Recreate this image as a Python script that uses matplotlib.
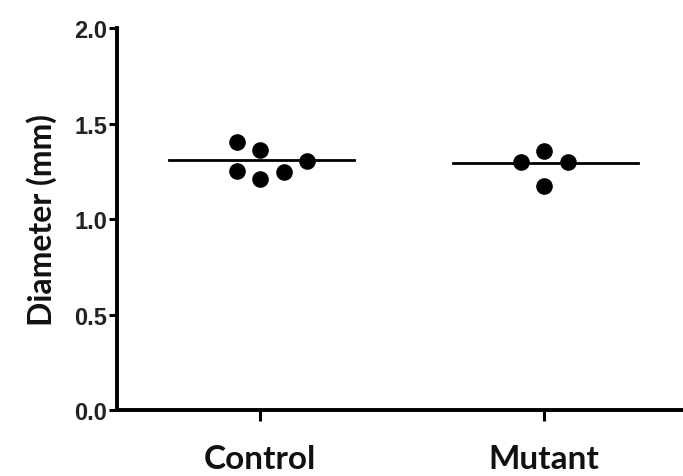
import matplotlib
matplotlib.use('Agg')
import matplotlib.pyplot as plt

# values
groups = ['Control', 'Mutant']
control = [1.403, 1.361, 1.251, 1.209, 1.246, 1.304]
mutant = [1.298, 1.356, 1.298, 1.173]
control_dx = [-0.08, 0.0, -0.08, 0.0, 0.085, 0.165]
mutant_dx = [-0.08, 0.0, 0.085, 0.0]
means = [1.309, 1.293]

fig = plt.figure(figsize=(6.83, 4.77), dpi=100)
ax = fig.add_axes([0.171, 0.138, 0.829, 0.801])

for i, (vals, dx) in enumerate([(control, control_dx), (mutant, mutant_dx)]):
    ax.scatter([i + d for d in dx], vals, s=120, color='black', zorder=3)
    ax.plot([i - 0.32, i + 0.33], [means[i], means[i]], color='black', lw=2, zorder=2)

ax.set_xlim(-0.504, 1.49)
ax.set_ylim(0, 2.0)
ax.set_yticks([0, 0.5, 1.0, 1.5, 2.0])
ax.set_yticklabels(['0.0', '0.5', '1.0', '1.5', '2.0'],
                   fontfamily='Liberation Sans', fontweight='bold', fontsize=17, color='#222222')
ax.set_xticks([0, 1])
ax.set_xticklabels(groups, fontfamily='Lato', fontweight='bold', fontsize=24, color='#111111')
ax.set_ylabel('Diameter (mm)', fontfamily='Lato', fontweight='bold', fontsize=23,
              labelpad=12, color='#111111')

for s in ['top', 'right']:
    ax.spines[s].set_visible(False)
for s in ['left', 'bottom']:
    ax.spines[s].set_linewidth(2.8)
ax.tick_params(axis='y', length=6, width=2.2, pad=1)
ax.tick_params(axis='x', length=8, width=2.2, pad=16)

plt.savefig('out.png', dpi=100)
